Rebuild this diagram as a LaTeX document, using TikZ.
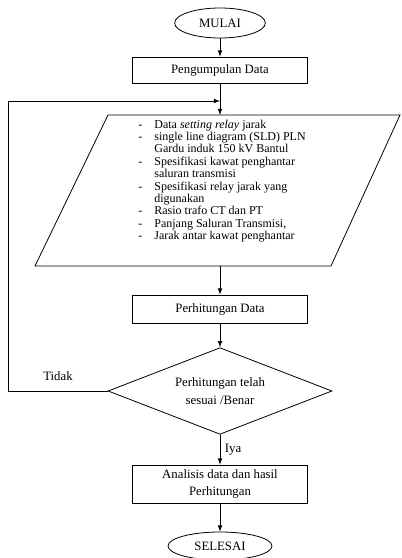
\documentclass[tikz,border=0pt]{standalone}
\usepackage{fontspec}
\setmainfont{Liberation Serif}
\usepackage{tikz}
\usetikzlibrary{arrows}
\usetikzlibrary{shapes.geometric}

\tikzset{
  boite/.style={draw, rectangle, align=center, inner sep=1pt, minimum width=131pt},
  terminal/.style={draw, ellipse, inner sep=0pt},
  choix/.style={draw, diamond, aspect=2.6, inner sep=0pt, align=center, minimum width=168pt, minimum height=65pt},
  fleche/.style={-latex}
}

\begin{document}
\begin{tikzpicture}[x=0.75pt,y=-0.75pt,line width=0.6pt,font=\fontsize{9.6}{11.5}\selectfont]
\useasboundingbox (0,0) rectangle (401,558);
% noeuds
\node[terminal, minimum width=68pt, minimum height=22.5pt] (mulai) at (220,23) {MULAI};
\node[boite, minimum height=19.5pt] (kumpul) at (220,70) {Pengumpulan Data};
% donnees (parallelogramme)
\draw (108,115) -- (400,115) -- (331,266) -- (35,266) -- cycle;
\coordinate (dataHaut) at (220,115);
\coordinate (dataBas) at (220,266);
\coordinate (jonction) at (220,101);
\node[anchor=north west, inner sep=0pt, font=\fontsize{9}{9.3}\selectfont] (liste) at (138,119) {%
  \begin{tabular}{@{}l@{\hspace{9pt}}l@{}}
  - & Data \textit{setting relay} jarak\\
  - & single line diagram (SLD) PLN\\
    & Gardu induk 150 kV Bantul\\
  - & Spesifikasi kawat penghantar\\
    & saluran transmisi\\
  - & Spesifikasi relay jarak yang\\
    & digunakan\\
  - & Rasio trafo CT dan PT\\
  - & Panjang Saluran Transmisi,\\
  - & Jarak antar kawat penghantar
  \end{tabular}};
\node[boite, minimum height=21pt] (hitung) at (220,309) {Perhitungan Data};
\node[choix] (cek) at (220,391) {Perhitungan telah\\[2pt] sesuai /Benar};
\node[boite, minimum height=28.5pt] (analisis) at (220,484) {Analisis data dan hasil\\[1pt] Perhitungan};
\node[terminal, minimum width=78pt, minimum height=21pt] (selesai) at (220,546) {SELESAI};
\coordinate (coinBas) at (8,391);
\coordinate (coinHaut) at (8,101);
% fleches
\draw[fleche] (mulai) -- (mulai |- kumpul.north);
\draw (kumpul.south -| dataHaut) -- (jonction);
\draw[fleche] (jonction) -- (dataHaut);
\draw[fleche] (dataBas) -- (hitung.north -| dataBas);
\draw[fleche] (hitung) -- (cek.north);
\draw[fleche] (cek.south) -- node[right]{Iya} (analisis.north);
\draw[fleche] (analisis) -- (selesai);
\draw[fleche] (cek.west) -- (coinBas) -- (coinHaut) -- (jonction);
\node (tidak) at (58,376) {Tidak};
\end{tikzpicture}
\end{document}
